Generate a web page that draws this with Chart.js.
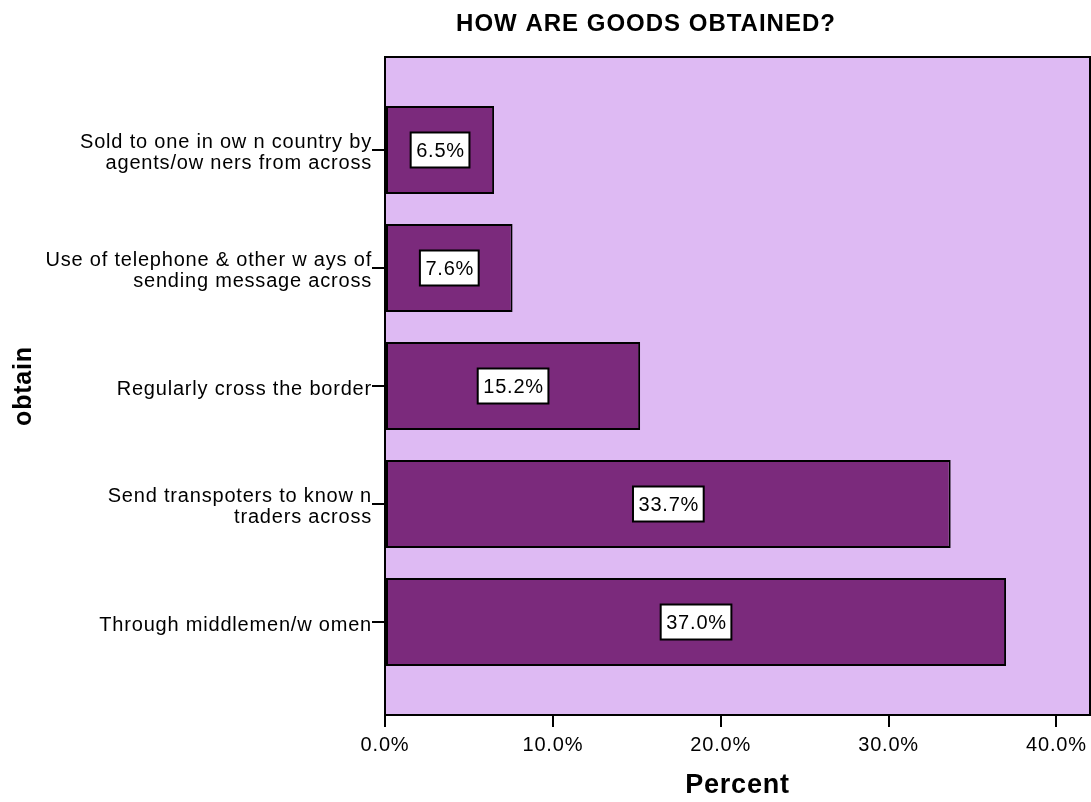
<!DOCTYPE html>
<html>
<head>
<meta charset="utf-8">
<script src="https://cdn.jsdelivr.net/npm/chart.js@4.4.1/dist/chart.umd.min.js"></script>
<style>
  html, body { margin: 0; padding: 0; background: #ffffff; }
  #wrap { width: 1091px; height: 802px; }
</style>
</head>
<body>
<div id="wrap"><canvas id="c" width="1091" height="802"></canvas></div>
<script>
const chartTitle = "HOW ARE GOODS OBTAINED?";
const categories = [
  ["Sold to one in ow n country by", "agents/ow ners from across"],
  ["Use of telephone & other w ays of", "sending message across"],
  ["Regularly cross the border"],
  ["Send transpoters to know n", "traders across"],
  ["Through middlemen/w omen"]
];
const percentValues = [6.5, 7.6, 15.2, 33.7, 37.0];
const xTickValues = [0, 10, 20, 30, 40];
const xAxisTitle = "Percent";
const yAxisTitle = "obtain";

const FONT = "'Liberation Sans', Arial, sans-serif";
const SPACING = '0.8px';

function setSpacing(chart) {
  if ('letterSpacing' in chart.ctx) chart.ctx.letterSpacing = SPACING;
}

const spacingPlugin = {
  id: 'spacing',
  beforeUpdate: setSpacing,
  beforeLayout: setSpacing,
  beforeDraw: setSpacing,
  beforeRender: setSpacing
};

const backgroundPlugin = {
  id: 'plotBg',
  beforeDraw(chart) {
    const { ctx, chartArea: a } = chart;
    ctx.save();
    ctx.fillStyle = '#DEBAF3';
    ctx.fillRect(a.left, a.top, a.right - a.left, a.bottom - a.top);
    ctx.strokeStyle = '#000000';
    ctx.lineWidth = 2;
    ctx.strokeRect(a.left, a.top, a.right - a.left, a.bottom - a.top);
    ctx.restore();
  }
};

const titlePlugin = {
  id: 'customTitle',
  afterDraw(chart) {
    const ctx = chart.ctx;
    ctx.save();
    if ('letterSpacing' in ctx) ctx.letterSpacing = '1px';
    ctx.font = "bold 24px " + FONT;
    ctx.fillStyle = '#000000';
    ctx.textAlign = 'center';
    ctx.textBaseline = 'middle';
    ctx.fillText(chartTitle, 646, 24);
    ctx.restore();
  }
};

const labelPlugin = {
  id: 'barLabels',
  afterDatasetsDraw(chart) {
    const ctx = chart.ctx;
    const meta = chart.getDatasetMeta(0);
    ctx.save();
    if ('letterSpacing' in ctx) ctx.letterSpacing = SPACING;
    ctx.font = "20px " + FONT;
    ctx.textAlign = 'center';
    ctx.textBaseline = 'middle';
    meta.data.forEach((el, i) => {
      const txt = percentValues[i].toFixed(1) + '%';
      const cx = (el.x + el.base) / 2;
      const cy = el.y;
      const w = ctx.measureText(txt).width + 10;
      const h = 35;
      ctx.fillStyle = '#ffffff';
      ctx.fillRect(cx - w / 2, cy - h / 2, w, h);
      ctx.strokeStyle = '#000000';
      ctx.lineWidth = 2;
      ctx.strokeRect(cx - w / 2, cy - h / 2, w, h);
      ctx.fillStyle = '#000000';
      ctx.fillText(txt, cx + 0.5, cy + 1);
    });
    ctx.restore();
  }
};

const chart = new Chart(document.getElementById('c'), {
  type: 'bar',
  data: {
    datasets: [{
      data: categories.map((c, i) => ({ x: percentValues[i], y: i })),
      backgroundColor: '#7B2A7C',
      borderColor: '#000000',
      borderWidth: 2,
      borderSkipped: false,
      categoryPercentage: 1,
      barPercentage: 0.746
    }]
  },
  options: {
    indexAxis: 'y',
    responsive: false,
    animation: false,
    devicePixelRatio: 1,
    layout: { padding: { top: 57, left: 0, right: 1, bottom: 0 } },
    plugins: {
      legend: { display: false },
      title: { display: false },
      tooltip: { enabled: false }
    },
    scales: {
      x: {
        type: 'linear',
        min: 0,
        max: 42,
        offset: false,
        afterFit(scale) { scale.height = 87; scale.paddingRight = 0; scale.paddingLeft = 0; },
        afterBuildTicks(scale) { scale.ticks = xTickValues.map(v => ({ value: v })); },
        ticks: {
          stepSize: 10,
          includeBounds: false,
          color: '#000000',
          font: { family: FONT, size: 20 },
          padding: 6,
          maxRotation: 0,
          callback: (v) => Number(v).toFixed(1) + '%'
        },
        grid: {
          offset: false,
          drawOnChartArea: false,
          drawTicks: true,
          tickLength: 12,
          color: '#000000',
          lineWidth: 2
        },
        border: { display: true, color: '#000000', width: 2 },
        title: {
          display: true,
          text: xAxisTitle,
          color: '#000000',
          font: { family: FONT, size: 27, weight: 'bold' },
          padding: { top: 0, bottom: 0 }
        }
      },
      y: {
        type: 'linear',
        reverse: true,
        offset: false,
        min: -0.788,
        max: categories.length - 1 + 0.788,
        afterFit(scale) { scale.width = 385; scale.paddingTop = 0; scale.paddingBottom = 0; },
        afterBuildTicks(scale) { scale.ticks = categories.map((c, i) => ({ value: i })); },
        ticks: {
          stepSize: 1,
          includeBounds: false,
          autoSkip: false,
          color: '#000000',
          font: { family: FONT, size: 20, lineHeight: 1.05 },
          padding: 0,
          labelOffset: 3,
          callback: (v) => categories[v] || ''
        },
        grid: {
          offset: false,
          drawOnChartArea: false,
          drawTicks: true,
          tickLength: 13,
          color: '#000000',
          lineWidth: 2
        },
        border: { display: true, color: '#000000', width: 2 },
        title: {
          display: true,
          text: yAxisTitle,
          color: '#000000',
          font: { family: FONT, size: 25, weight: 'bold' },
          padding: { top: 9, bottom: 0 }
        }
      }
    }
  },
  plugins: [spacingPlugin, backgroundPlugin, labelPlugin, titlePlugin]
});
</script>
</body>
</html>
